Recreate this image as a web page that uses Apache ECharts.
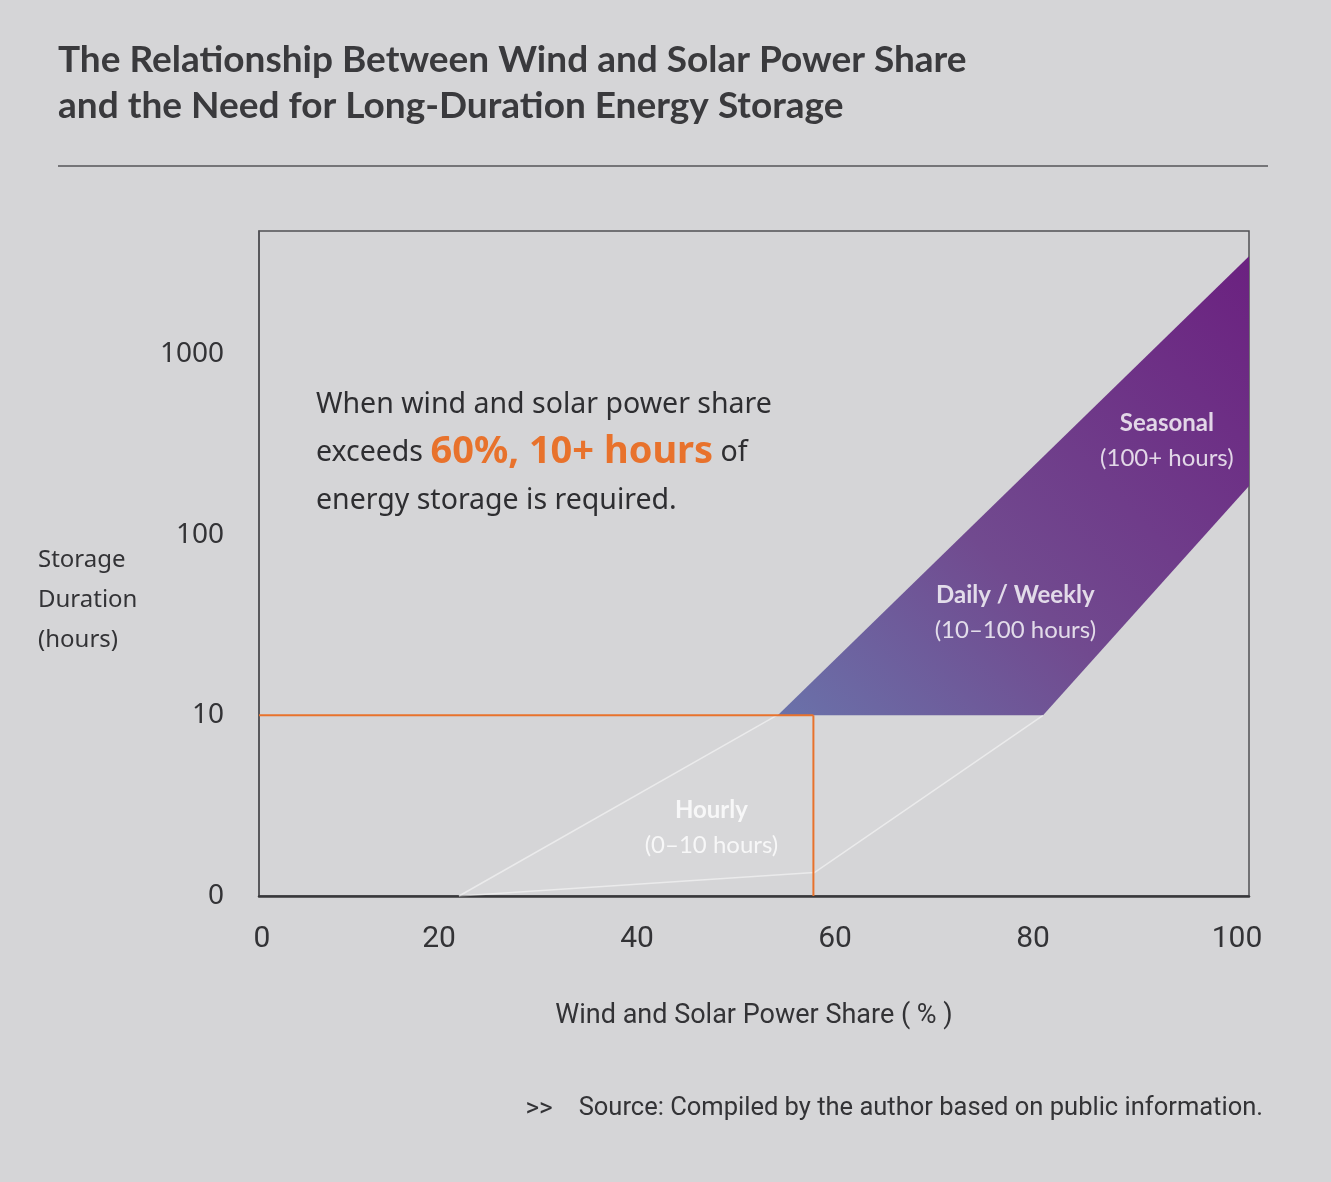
<!DOCTYPE html>
<html>
<head>
<meta charset="utf-8">
<script src="https://cdn.jsdelivr.net/npm/echarts@6/dist/echarts.min.js"></script>
<style>
  html, body { margin: 0; padding: 0; background: #d5d5d7; }
  #chart { width: 1331px; height: 1182px; }
</style>
</head>
<body>
<div id="chart"></div>
<script>
// ---------- data (share in %, duration in hours) ----------
const xTicks = [0, 20, 40, 60, 80, 100];
const yTickHours = [0, 10, 100, 1000];
const bandPolygon = [[52.4, 10], [100, 3470], [100, 186], [79.2, 10]];
const hourlyUpper = [[20.2, 0], [52.3, 10]];
const hourlyLower = [[20.2, 0], [56.1, 1.3], [79.2, 10]];
const thresholdH = [[0, 10], [56, 10]];
const thresholdV = [[56, 10], [56, 0]];
const regionLabels = [
  { name: 'Seasonal', range: '(100+ hours)', x: 91.7, h: 330 },
  { name: 'Daily / Weekly', range: '(10\u2013100 hours)', x: 76.4, h: 37 },
  { name: 'Hourly', range: '(0\u201310 hours)', x: 45.7, h: 3.8 }
];

// scale: linear 0-10 h, logarithmic above 10 h
function ty(h) { return h <= 10 ? h / 10 : 1 + Math.log10(h / 10); }
const tr = pts => pts.map(p => [p[0], ty(p[1])]);

const chart = echarts.init(document.getElementById('chart'));
const dark = '#333336';

const option = {
  backgroundColor: '#d5d5d7',
  animation: false,
  grid: { left: 259, top: 231, width: 990, height: 665, show: true, borderColor: '#505054', borderWidth: 1.5, backgroundColor: 'transparent' },
  xAxis: {
    type: 'value', min: 0, max: 100, interval: 20,
    axisLine: { show: true, lineStyle: { color: '#38383b', width: 2.5 } },
    axisTick: { show: false },
    splitLine: { show: false },
    axisLabel: {
      margin: 28,
      formatter: v => v === 0 ? '{z|0}' : (v === 100 ? '{e|100}' : '{n|' + v + '}'),
      rich: {
        z: { fontFamily: 'Roboto', fontSize: 30, color: dark, padding: [0, 0, 0, 6] },
        n: { fontFamily: 'Roboto', fontSize: 30, color: dark, padding: [0, 36, 0, 0] },
        e: { fontFamily: 'Roboto', fontSize: 30, color: dark, padding: [0, 24, 0, 0] }
      }
    },
    name: 'Wind and Solar Power Share ( % )',
    nameLocation: 'middle', nameGap: 107,
    nameTextStyle: { fontFamily: 'Roboto', fontSize: 27, color: dark }
  },
  yAxis: {
    type: 'value', min: 0, max: 3.68, interval: 1,
    axisLine: { show: true, lineStyle: { color: '#505054', width: 1.5 } },
    axisTick: { show: false },
    splitLine: { show: false },
    axisLabel: {
      margin: 35, fontFamily: 'Noto Sans', fontSize: 28, color: dark,
      showMaxLabel: false,
      formatter: v => Number.isInteger(v) && v < yTickHours.length ? String(yTickHours[v]) : ''
    }
  },
  series: [
    {
      type: 'custom', coordinateSystem: 'cartesian2d', data: [0], silent: true, z: 2,
      renderItem: (params, api) => ({
        type: 'polygon',
        shape: { points: tr(bandPolygon).map(p => api.coord(p)) },
        style: {
          fill: new echarts.graphic.LinearGradient(0, 1, 1, 0, [
            { offset: 0, color: '#6a72aa' },
            { offset: 0.4, color: '#714a8f' },
            { offset: 1, color: '#6b2180' }
          ])
        }
      })
    },
    {
      type: 'custom', coordinateSystem: 'cartesian2d', data: [0], silent: true, z: 1,
      renderItem: (params, api) => ({
        type: 'polygon',
        shape: { points: tr(hourlyUpper.concat(hourlyLower.slice().reverse().slice(0, 2))).map(p => api.coord(p)) },
        style: { fill: 'rgba(255,255,255,0.05)' }
      })
    },
    { type: 'line', data: tr(hourlyUpper), showSymbol: false, silent: true, z: 3,
      lineStyle: { color: 'rgba(255,255,255,0.5)', width: 1.5 } },
    { type: 'line', data: tr(hourlyLower), showSymbol: false, silent: true, z: 3,
      lineStyle: { color: 'rgba(255,255,255,0.5)', width: 1.5 } },
    { type: 'line', data: tr(thresholdH), showSymbol: false, silent: true, z: 4,
      lineStyle: { color: '#e8722c', width: 2 } },
    { type: 'line', data: tr(thresholdV), showSymbol: false, silent: true, z: 4,
      lineStyle: { color: '#e8722c', width: 2 } },
    {
      type: 'scatter', symbolSize: 0, silent: true, z: 5,
      data: regionLabels.map(d => ({ value: [d.x, ty(d.h)], name: d.name, range: d.range })),
      label: {
        show: true, position: 'inside', align: 'center', verticalAlign: 'middle',
        formatter: p => '{b|' + p.data.name + '}\n{r|' + p.data.range + '}',
        rich: {
          b: { fontFamily: 'Lato', fontWeight: 'bold', fontSize: 24, color: '#ffffff', lineHeight: 35, align: 'center' },
          r: { fontFamily: 'Lato', fontSize: 24, color: '#ffffff', lineHeight: 35, align: 'center' }
        }
      }
    }
  ],
  graphic: [
    { type: 'text', left: 58, top: 37, style: { text: 'The Relationship Between Wind and Solar Power Share\nand the Need for Long-Duration Energy Storage',
      font: 'bold 37px Lato', fill: '#3a3a3d', lineHeight: 46 } },
    { type: 'line', shape: { x1: 58, y1: 166, x2: 1268, y2: 166 }, style: { stroke: '#555558', lineWidth: 1.5 } },
    { type: 'text', left: 316, top: 390, style: {
      text: '{t|When wind and solar power share}\n{t|exceeds }{h|60%, 10+ hours}{t| of}\n{t|energy storage is required.}',
      rich: {
        t: { fontFamily: 'Noto Sans', fontSize: 28.5, fill: '#2e2e31', lineHeight: 48 },
        h: { fontFamily: 'Noto Sans', fontWeight: 'bold', fontSize: 38, fill: '#e8722c', lineHeight: 48 }
      } } },
    { type: 'text', left: 38, top: 540, style: { text: 'Storage\nDuration\n(hours)', font: '24px "Noto Sans"', fill: dark, lineHeight: 40 } },
    { type: 'text', right: 68, top: 1096, style: {
      text: '{a|>>}{s|Source: Compiled by the author based on public information.}',
      rich: {
        a: { fontFamily: 'Roboto', fontSize: 26, fill: dark, padding: [0, 26, 0, 0] },
        s: { fontFamily: 'Roboto', fontSize: 25.5, fill: dark }
      } } }
  ]
};
chart.setOption(option);
</script>
</body>
</html>
